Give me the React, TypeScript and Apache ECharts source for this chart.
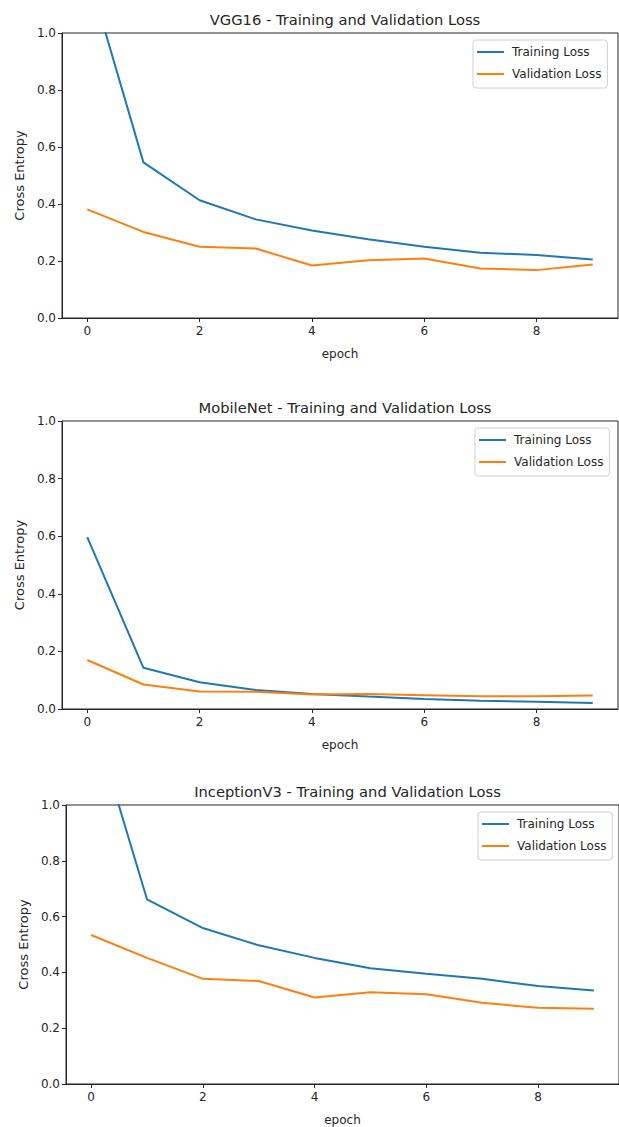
import React, { useEffect, useRef } from "react";
import * as echarts from "echarts";

const epochs = [0, 1, 2, 3, 4, 5, 6, 7, 8, 9];
const xTicks = [0, 2, 4, 6, 8];
const yTicks = [0, 0.2, 0.4, 0.6, 0.8, 1.0];

const titles = [
  "VGG16 - Training and Validation Loss",
  "MobileNet - Training and Validation Loss",
  "InceptionV3 - Training and Validation Loss",
];

const vggTrain = [1.22, 0.546, 0.413, 0.346, 0.307, 0.276, 0.25, 0.229, 0.221, 0.205];
const vggVal = [0.381, 0.302, 0.25, 0.244, 0.184, 0.203, 0.209, 0.174, 0.168, 0.188];
const mobileTrain = [0.597, 0.143, 0.093, 0.066, 0.052, 0.043, 0.035, 0.029, 0.025, 0.021];
const mobileVal = [0.17, 0.085, 0.061, 0.06, 0.05, 0.052, 0.048, 0.044, 0.044, 0.047];
const incTrain = [1.33, 0.662, 0.559, 0.497, 0.452, 0.415, 0.395, 0.377, 0.351, 0.335];
const incVal = [0.534, 0.452, 0.377, 0.369, 0.31, 0.329, 0.322, 0.291, 0.273, 0.27];

const trainSets = [vggTrain, mobileTrain, incTrain];
const valSets = [vggVal, mobileVal, incVal];

const FONT = "DejaVu Sans";
const TXT = "#262626";
const BLUE = "#1f77b4";
const ORANGE = "#ff7f0e";

const grids = [
  { left: 62, top: 33, width: 556, height: 285 },
  { left: 62, top: 421, width: 556, height: 288 },
  { left: 66, top: 805, width: 553, height: 280 },
];
const legendPos = [
  { left: 473, top: 40 },
  { left: 475, top: 428 },
  { left: 478, top: 812 },
];

export default function App() {
  const ref = useRef<HTMLDivElement>(null);
  useEffect(() => {
    if (!ref.current) return;
    const chart = echarts.init(ref.current, undefined, { renderer: "svg" });
    const option: any = {
      animation: false,
      backgroundColor: "#fff",
      title: grids.map((g, i) => ({
        text: titles[i],
        left: g.left + g.width / 2,
        top: g.top - 26,
        textAlign: "center",
        textStyle: { fontFamily: FONT, fontSize: 14.7, fontWeight: "normal", color: TXT },
      })),
      legend: grids.map((g, i) => ({
        orient: "vertical",
        left: legendPos[i].left,
        top: legendPos[i].top,
        data: ["Training Loss", "Validation Loss"],
        icon: "rect",
        itemWidth: 27,
        itemHeight: 2,
        itemGap: 10,
        padding: [6, 6, 8, 4],
        borderColor: "#d0d0d0",
        borderWidth: 1,
        borderRadius: 3,
        backgroundColor: "rgba(255,255,255,0.8)",
        textStyle: { fontFamily: FONT, fontSize: 12, color: TXT, padding: [0, 0, 0, 3] },
        selectedMode: false,
      })),
      grid: grids.map((g) => ({
        ...g,
        show: true,
        borderColor: "#262626",
        borderWidth: 1,
        backgroundColor: "transparent",
      })),
      xAxis: grids.map((g, i) => ({
        type: "value",
        gridIndex: i,
        min: -0.45,
        max: 9.45,
        name: "epoch",
        nameLocation: "middle",
        nameGap: 30,
        nameTextStyle: { fontFamily: FONT, fontSize: 12, color: TXT },
        axisLine: { show: true, onZero: false, lineStyle: { color: "#262626", width: 1 } },
        axisTick: { show: true, inside: false, length: 4, customValues: xTicks, lineStyle: { color: "#262626" } },
        axisLabel: {
          customValues: xTicks,
          fontFamily: FONT,
          fontSize: 12,
          color: TXT,
          margin: 7,
          formatter: (v: number) => String(v),
        },
        splitLine: { show: false },
      })),
      yAxis: grids.map((g, i) => ({
        type: "value",
        gridIndex: i,
        min: 0,
        max: 1,
        interval: 0.2,
        name: "Cross Entropy",
        nameLocation: "middle",
        nameGap: 35,
        nameRotate: 90,
        nameTextStyle: { fontFamily: FONT, fontSize: 13, color: TXT },
        axisLine: { show: true, onZero: false, lineStyle: { color: "#262626", width: 1 } },
        axisTick: { show: true, inside: false, length: 4, lineStyle: { color: "#262626" } },
        axisLabel: {
          fontFamily: FONT,
          fontSize: 12,
          color: TXT,
          margin: 6,
          formatter: (v: number) => v.toFixed(1),
          customValues: yTicks,
        },
        splitLine: { show: false },
      })),
      series: grids.flatMap((g, i) => [
        {
          name: "Training Loss",
          type: "line",
          xAxisIndex: i,
          yAxisIndex: i,
          data: epochs.map((e, k) => [e, trainSets[i][k]]),
          showSymbol: false,
          symbol: "none",
          clip: true,
          lineStyle: { color: BLUE, width: 2 },
          itemStyle: { color: BLUE },
        },
        {
          name: "Validation Loss",
          type: "line",
          xAxisIndex: i,
          yAxisIndex: i,
          data: epochs.map((e, k) => [e, valSets[i][k]]),
          showSymbol: false,
          symbol: "none",
          clip: true,
          lineStyle: { color: ORANGE, width: 2 },
          itemStyle: { color: ORANGE },
        },
      ]),
    };
    chart.setOption(option);
    return () => chart.dispose();
  }, []);
  return (
    <div
      ref={ref}
      style={{ position: "absolute", left: 0, top: 0, width: 619, height: 1127 }}
    />
  );
}
